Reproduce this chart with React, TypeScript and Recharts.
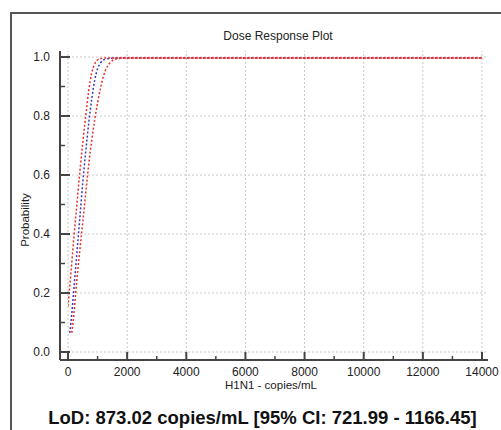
import React from 'react';
import { LineChart, Line, XAxis, YAxis, ReferenceLine, Label } from 'recharts';

// dose (copies/mL) and detection probability
const centerDose = [60, 100, 200, 300, 400, 500, 600, 700, 800, 900, 1000, 1100, 1200, 1400, 1600, 2000, 4000, 6000, 8000, 10000, 12000, 14000];
const centerProb = [0.065, 0.1, 0.215, 0.335, 0.455, 0.575, 0.68, 0.775, 0.855, 0.92, 0.96, 0.98, 0.99, 0.995, 0.997, 0.997, 0.997, 0.997, 0.997, 0.997, 0.997, 0.997];

const upperDose = [0, 100, 200, 300, 400, 500, 600, 700, 800, 900, 1000, 1100, 1300, 1600, 2000, 4000, 6000, 8000, 10000, 12000, 14000];
const upperProb = [0.155, 0.27, 0.39, 0.5, 0.61, 0.71, 0.8, 0.885, 0.945, 0.975, 0.99, 0.995, 0.997, 0.997, 0.997, 0.997, 0.997, 0.997, 0.997, 0.997, 0.997];

const lowerDose = [130, 200, 300, 400, 500, 600, 700, 800, 900, 1000, 1100, 1200, 1300, 1400, 1500, 1600, 1800, 2000, 4000, 6000, 8000, 10000, 12000, 14000];
const lowerProb = [0.065, 0.13, 0.245, 0.345, 0.44, 0.54, 0.635, 0.715, 0.785, 0.845, 0.895, 0.935, 0.962, 0.978, 0.988, 0.993, 0.996, 0.997, 0.997, 0.997, 0.997, 0.997, 0.997, 0.997];

const xTicks = [0, 1000, 2000, 3000, 4000, 5000, 6000, 7000, 8000, 9000, 10000, 11000, 12000, 13000, 14000];
const yTicks = [0, 0.1, 0.2, 0.3, 0.4, 0.5, 0.6, 0.7, 0.8, 0.9, 1.0];
const xGrid = [0, 2000, 4000, 6000, 8000, 10000, 12000, 14000];
const yGrid = [0, 0.2, 0.4, 0.6, 0.8, 1.0];

const toRows = (dose: number[], prob: number[]) => dose.map((d, i) => ({ x: d, p: prob[i] }));

const FONT = '"Liberation Sans", Arial, sans-serif';
const AXIS = '#444';
const GRID = '#c8c8c8';
const RED = '#e8302a';
const BLUE = '#3a3ac0';

const XTick = (props: any) => {
  const { x, y, payload, index } = props;
  const major = index % 2 === 0;
  return (
    <g>
      <line x1={x} x2={x} y1={y} y2={y - (major ? 8 : 4)} stroke={AXIS} strokeWidth={major ? 2 : 1.5} />
      {major && (
        <text x={x} y={y + 16} textAnchor="middle" fontSize={12} fontFamily={FONT} fill="#222">
          {payload.value}
        </text>
      )}
    </g>
  );
};

const YTick = (props: any) => {
  const { x, y, payload, index } = props;
  const major = index % 2 === 0;
  return (
    <g>
      <line x1={x} x2={x + (major ? 10 : 5)} y1={y} y2={y} stroke={AXIS} strokeWidth={major ? 2 : 1.5} />
      {major && (
        <text x={x - 10} y={y + 4} textAnchor="end" fontSize={12} fontFamily={FONT} fill="#222">
          {Number(payload.value).toFixed(1)}
        </text>
      )}
    </g>
  );
};

export default function App() {
  return (
    <div
      style={{
        position: 'absolute',
        left: 10,
        top: 12,
        width: 489,
        height: 416,
        overflow: 'hidden',
        borderLeft: '2px solid #555',
        borderTop: '2px solid #555',
        fontFamily: FONT,
      }}
    >
      <style>{'html, body { overflow: hidden; }'}</style>
      <div style={{ position: 'absolute', left: 52, width: 428, top: 15, textAlign: 'center', fontSize: 12, lineHeight: '14px', color: '#222' }}>
        Dose Response Plot
      </div>
      <LineChart width={489} height={416} margin={{ top: 37, right: 13, bottom: 0, left: 0 }}>
        <XAxis
          type="number"
          dataKey="x"
          domain={[0, 14000]}
          ticks={xTicks}
          interval={0}
          padding={{ left: 8, right: 6 }}
          height={70}
          tickLine={false}
          tickSize={0}
          tickMargin={0}
          axisLine={{ stroke: AXIS, strokeWidth: 2 }}
          tick={(p: any) => <XTick {...p} />}
          allowDataOverflow
        >
          <Label
            content={() => (
              <text x={259} y={375} textAnchor="middle" fontSize={11.5} fontFamily={FONT} fill="#222">
                H1N1 - copies/mL
              </text>
            )}
          />
        </XAxis>
        <YAxis
          type="number"
          domain={[0, 1]}
          ticks={yTicks}
          interval={0}
          padding={{ top: 6, bottom: 8 }}
          width={48}
          tickLine={false}
          tickSize={0}
          tickMargin={0}
          axisLine={{ stroke: AXIS, strokeWidth: 2 }}
          tick={(p: any) => <YTick {...p} />}
          allowDataOverflow
        >
          <Label
            content={() => (
              <text x={17} y={206} transform="rotate(-90 17 206)" textAnchor="middle" fontSize={11.5} fontFamily={FONT} fill="#222">
                Probability
              </text>
            )}
          />
        </YAxis>
        {xGrid.map((v) => (
          <ReferenceLine key={'gx' + v} x={v} stroke={GRID} strokeDasharray="2 2" />
        ))}
        {yGrid.map((v) => (
          <ReferenceLine key={'gy' + v} y={v} stroke={GRID} strokeDasharray="2 2" />
        ))}
        <Line data={toRows(centerDose, centerProb)} dataKey="p" type="monotone" stroke={BLUE} strokeWidth={1.5} strokeDasharray="2 2" dot={false} isAnimationActive={false} />
        <Line data={toRows(upperDose, upperProb)} dataKey="p" type="monotone" stroke={RED} strokeWidth={1.5} strokeDasharray="2 2" dot={false} isAnimationActive={false} />
        <Line data={toRows(lowerDose, lowerProb)} dataKey="p" type="monotone" stroke={RED} strokeWidth={1.5} strokeDasharray="2 2" dot={false} isAnimationActive={false} />
      </LineChart>
      <div style={{ position: 'absolute', left: 6, width: 489, top: 394, textAlign: 'center', fontSize: 18.5, lineHeight: '20px', fontWeight: 'bold', color: '#111', whiteSpace: 'nowrap' }}>
        LoD: 873.02 copies/mL [95% CI: 721.99 - 1166.45]
      </div>
    </div>
  );
}
